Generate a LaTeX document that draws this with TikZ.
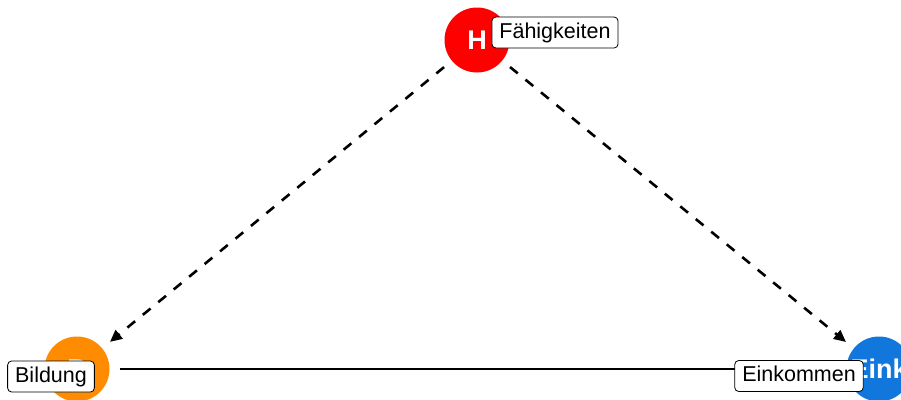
\documentclass[tikz,border=0pt]{standalone}
\usepackage{fontspec}
\setmainfont{Liberation Sans}
\usetikzlibrary{arrows.meta}
\definecolor{nodered}{HTML}{FF0000}
\definecolor{nodeorange}{HTML}{FF8C00}
\definecolor{nodeblue}{HTML}{1177DD}
\tikzset{
  dagnode/.style={circle, minimum size=65pt, inner sep=0pt, text=white,
    font=\fontsize{27}{27}\selectfont\bfseries},
  daglabel/.style={draw=black, fill=white, rounded corners=4pt, line width=0.8pt,
    font=\fontsize{21.5}{21.5}\selectfont, text height=15.5pt, text depth=4.5pt,
    inner xsep=7.5pt, inner ysep=5.5pt},
  dagedge/.style={line width=2.6pt, shorten >=10pt, shorten <=10pt,
    -{Triangle[length=12pt,width=11pt]}},
  dashededge/.style={dagedge, dash pattern=on 10pt off 10pt}
}
\begin{document}
\begin{tikzpicture}[x=1pt,y=-1pt]
\useasboundingbox (0,0) rectangle (901,399);
\clip (0,0) rectangle (901,399);
\node[dagnode, fill=nodered] (H) at (477,40) {H};
\node[dagnode, fill=nodeorange] (B) at (77,369) {B};
\node[dagnode, fill=nodeblue] (E) at (879,369) {Eink};
\draw[dashededge] (H) -- (B);
\draw[dashededge] (H) -- (E);
\draw[dagedge] (B) -- (E);
\node[daglabel] (lH) at (555,32.5) {Fähigkeiten};
\node[daglabel] (lB) at (51,376.5) {Bildung};
\node[daglabel] (lE) at (799,376) {Einkommen};
\end{tikzpicture}
\end{document}
